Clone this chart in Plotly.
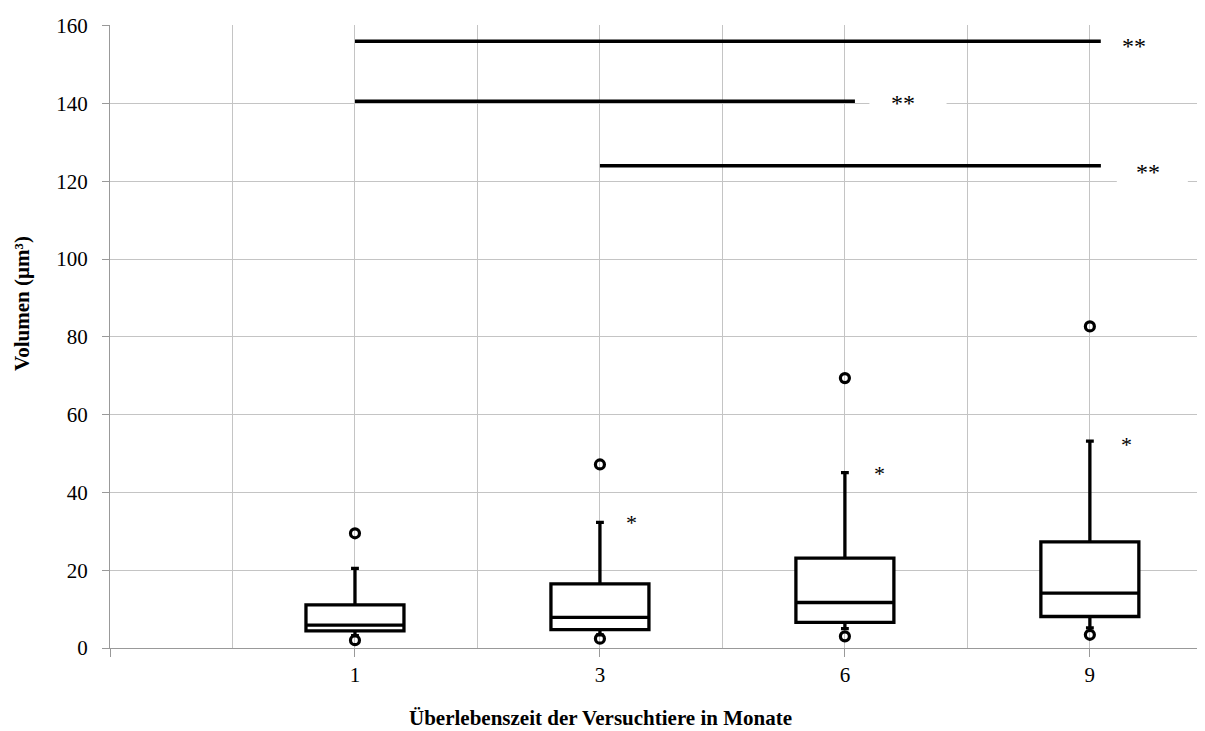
import plotly.graph_objects as go

# Data
categories = ["1", "3", "6", "9"]
positions = [1, 2, 3, 4]
q1 = [4.4, 4.7, 6.6, 8.1]
median = [5.9, 7.9, 11.7, 14.1]
q3 = [11.1, 16.5, 23.1, 27.3]
lowerfence = [3.2, 3.4, 5.0, 5.2]
upperfence = [20.5, 32.3, 45.1, 53.2]
outlier_high = [29.5, 47.2, 69.4, 82.7]
outlier_low = [2.0, 2.4, 3.0, 3.4]

# significance brackets: start pos, end pos, y value
sig_start = [1, 1, 2]
sig_end = [4.045, 3.041, 4.045]
sig_y = [156, 140.6, 124]
sig_text = ["**", "**", "**"]
sig_text_x = [4.18, 3.237, 4.237]
sig_text_y = [154.8, 140.2, 122.5]
sig_box_x0 = [4.045, 3.1, 4.11]
sig_box_x1 = [4.4, 3.415, 4.4]
sig_box_y0 = [151, 136.5, 118.5]
sig_box_y1 = [160.6, 145, 127.5]

star_x = [2.13, 3.143, 4.15]
star_y = [32.4, 45.0, 52.4]

FONT = "Liberation Serif"
GRID = "#c4c4c4"
TXT = "black"

# body margin of the page is 8px; size the figure to fit the window
W, H = 1197, 723
ML, MR, MT, MB = 102, 0, 17, 83
PX0, PY0 = 110, 648          # page position of plot origin
PW, PH = W - ML - MR, H - MT - MB


def page_to_paper(X, Y):
    return (X - PX0) / PW, (PY0 - Y) / PH


fig = go.Figure()

fig.add_trace(go.Box(
    x=positions, q1=q1, median=median, q3=q3,
    lowerfence=lowerfence, upperfence=upperfence,
    width=0.4, whiskerwidth=0.08,
    line=dict(color="black", width=3.3),
    fillcolor="white", boxpoints=False, showlegend=False,
))

fig.add_trace(go.Scatter(
    x=positions + positions, y=outlier_high + outlier_low, mode="markers",
    marker=dict(symbol="circle-open", size=9, color="black", line=dict(width=3.2, color="black")),
    showlegend=False,
))

for xs, xe, yv in zip(sig_start, sig_end, sig_y):
    fig.add_trace(go.Scatter(
        x=[xs, xe], y=[yv, yv], mode="lines",
        line=dict(color="black", width=3.5), showlegend=False,
    ))

shapes = []
for x0, x1, y0, y1 in zip(sig_box_x0, sig_box_x1, sig_box_y0, sig_box_y1):
    shapes.append(dict(type="rect", xref="x", yref="y", x0=x0, x1=x1, y0=y0, y1=y1,
                       fillcolor="white", line=dict(width=0), layer="above"))

annotations = []
for tx, ty, t in zip(sig_text_x, sig_text_y, sig_text):
    annotations.append(dict(x=tx, y=ty, text=t, showarrow=False, xref="x", yref="y",
                            font=dict(family=FONT, size=24, color=TXT)))
for sx, sy in zip(star_x, star_y):
    annotations.append(dict(x=sx, y=sy, text="*", showarrow=False, xref="x", yref="y",
                            font=dict(family=FONT, size=22, color=TXT)))

tx, ty = page_to_paper(600, 718)
annotations.append(dict(x=tx, y=ty, xref="paper", yref="paper", yanchor="middle", xanchor="center",
                        text="<b>Überlebenszeit der Versuchtiere in Monate</b>",
                        showarrow=False, font=dict(family=FONT, size=21, color=TXT)))
yx, yy = page_to_paper(22, 304)
annotations.append(dict(x=yx, y=yy, xref="paper", yref="paper", yanchor="middle", xanchor="center",
                        text="<b>Volumen (µm³)</b>", textangle=-90,
                        showarrow=False, font=dict(family=FONT, size=21, color=TXT)))

fig.update_layout(
    width=W, height=H,
    margin=dict(l=ML, r=MR, t=MT, b=MB, autoexpand=False),
    paper_bgcolor="white", plot_bgcolor="white",
    shapes=shapes, annotations=annotations,
    xaxis=dict(
        range=[0, 4.47], tickvals=[0] + positions, ticktext=[""] + categories,
        showgrid=True, gridcolor=GRID, gridwidth=1.3,
        minor=dict(tickvals=[0.5, 1.5, 2.5, 3.5], showgrid=True, gridcolor=GRID, gridwidth=1.3, ticks=""),
        ticks="outside", ticklen=8, tickcolor="#999", tickwidth=1.3,
        showline=True, linecolor="#999", linewidth=1.3,
        zeroline=False,
        tickfont=dict(family=FONT, size=21, color=TXT),
    ),
    yaxis=dict(
        range=[0, 160.2], tickvals=[0, 20, 40, 60, 80, 100, 120, 140, 160],
        showgrid=True, gridcolor=GRID, gridwidth=1.3,
        ticks="outside", ticklen=7, tickcolor="#999", tickwidth=1.3,
        showline=True, linecolor="#999", linewidth=1.3,
        zeroline=False, ticklabelstandoff=10,
        tickfont=dict(family=FONT, size=21, color=TXT),
    ),
)

fig.write_html("out.html")
